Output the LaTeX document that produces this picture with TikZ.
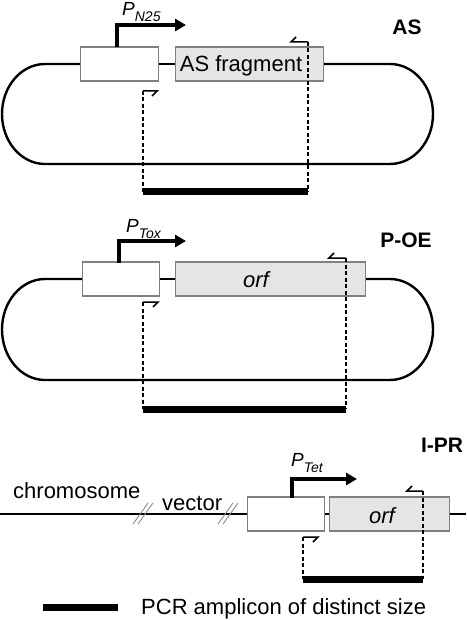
\documentclass[tikz,border=0pt]{standalone}
\usepackage{fontspec}
\setmainfont{Liberation Sans}
\usetikzlibrary{arrows.meta}
\begin{document}
\begin{tikzpicture}[x=1pt,y=-1pt,
  dna/.style={line width=2.4pt},
  wbox/.style={draw=black!50,line width=1.2pt,fill=white,minimum height=34pt,inner sep=0pt,anchor=west},
  gbox/.style={wbox,fill=black!10},
  prom/.style={line width=4pt,-{Triangle[length=11pt,width=12pt]}},
  primer/.style={line width=1.5pt},
  pcr/.style={line width=1.3pt,dash pattern=on 4pt off 2.5pt},
  amp/.style={line width=7pt},
  lbl/.style={font=\fontsize{21}{24}\selectfont\bfseries,anchor=base,inner sep=0pt},
  txt/.style={font=\fontsize{22}{26}\selectfont,inner sep=0pt},
  itxt/.style={font=\fontsize{22}{26}\selectfont\itshape,inner sep=0pt,anchor=base},
  ptxt/.style={font=\fontsize{19}{22}\selectfont\itshape,anchor=base west,inner sep=0pt},
  brk/.style={draw=black!45,line width=0.9pt}
]
\newcommand{\subtxt}[1]{\raisebox{-6pt}{\fontsize{14}{16}\selectfont #1}}
\useasboundingbox (0,0) rectangle (466,620);

% ---------- AS ----------
\node[wbox,minimum width=78pt] (wb1) at (80,64) {};
\node[gbox,minimum width=148pt] (gb1) at (175,64) {};
\node[txt,anchor=base] (t1) at (241,72) {AS fragment};
\draw[dna] (wb1.west) -- (45,64) arc[start angle=90,end angle=270,x radius=43pt,y radius=50pt]
  -- (390,164) arc[start angle=-90,end angle=90,x radius=43pt,y radius=50pt] -- (gb1.east);
\draw[dna] (wb1.east) -- (gb1.west);
\coordinate (pa1) at (117,47.5);
\coordinate (pb1) at (186,25);
\draw[prom] (pa1) |- (pb1);
\node[ptxt] (pl1) at (122,16) {P\subtxt{N25}};
\node[lbl] (l1) at (407,35) {AS};
\coordinate (r1) at (308,42);
\coordinate (f1) at (143,91);
\coordinate (b1l) at (143,192);
\coordinate (b1r) at (308,192);
\draw[primer] (r1) -- ++(-17,0) -- ++(5,-5);
\draw[primer] (f1) -- ++(14,0) -- ++(-5,5);
\draw[pcr] (r1) -- (b1r);
\draw[pcr] (f1) -- (b1l);
\draw[amp] (b1l) -- (b1r);

% ---------- P-OE ----------
\node[wbox,minimum width=77pt] (wb2) at (82,279) {};
\node[gbox,minimum width=190pt] (gb2) at (175,279) {};
\node[itxt] (t2) at (256,287) {orf};
\draw[dna] (wb2.west) -- (45,279) arc[start angle=90,end angle=270,x radius=43pt,y radius=50.5pt]
  -- (390,380) arc[start angle=-90,end angle=90,x radius=43pt,y radius=50.5pt] -- (gb2.east);
\draw[dna] (wb2.east) -- (gb2.west);
\coordinate (pa2) at (119,262.5);
\coordinate (pb2) at (186,241);
\draw[prom] (pa2) |- (pb2);
\node[ptxt] (pl2) at (126,232) {P\subtxt{Tox}};
\node[lbl] (l2) at (406,247) {P-OE};
\coordinate (r2) at (346,258);
\coordinate (f2) at (143,302);
\coordinate (b2l) at (143,409);
\coordinate (b2r) at (346,409);
\draw[primer] (r2) -- ++(-17,0) -- ++(5,-5);
\draw[primer] (f2) -- ++(15,0) -- ++(-5,5);
\draw[pcr] (r2) -- (b2r);
\draw[pcr] (f2) -- (b2l);
\draw[amp] (b2l) -- (b2r);

% ---------- I-PR ----------
\coordinate (lend) at (0,514);
\coordinate (rend) at (466,514);
\node[wbox,minimum width=77pt] (wb3) at (247,514) {};
\node[gbox,minimum width=120pt] (gb3) at (329,514) {};
\node[itxt] (t3) at (382,523) {orf};
\draw[dna] (lend) -- (wb3.west);
\draw[dna] (wb3.east) -- (gb3.west);
\draw[dna] (gb3.east) -- (rend);
\draw[brk] (133,524) -- (148,503) (138,524) -- (153,503);
\draw[brk] (218,524) -- (233,503) (223,524) -- (238,503);
\node[txt,anchor=base west] (chr) at (13,498) {chromosome};
\node[txt,anchor=base west] (vec) at (162,510) {vector};
\coordinate (pa3) at (292,497.5);
\coordinate (pb3) at (357,479);
\draw[prom] (pa3) |- (pb3);
\node[ptxt] (pl3) at (291,466) {P\subtxt{Tet}};
\node[lbl] (l3) at (442,452) {I-PR};
\coordinate (r3) at (423,491);
\coordinate (f3) at (303,537);
\coordinate (b3l) at (303,579);
\coordinate (b3r) at (423,579);
\draw[primer] (r3) -- ++(-16,0) -- ++(5,-5);
\draw[primer] (f3) -- ++(15,0) -- ++(-5,5);
\draw[pcr] (r3) -- (b3r);
\draw[pcr] (f3) -- (b3l);
\draw[amp] (b3l) -- (b3r);

% ---------- legend ----------
\coordinate (lg1) at (43,607);
\coordinate (lg2) at (118,607);
\draw[amp] (lg1) -- (lg2);
\node[txt,anchor=base west] (lgt) at (141,614) {PCR amplicon of distinct size};
\end{tikzpicture}
\end{document}
